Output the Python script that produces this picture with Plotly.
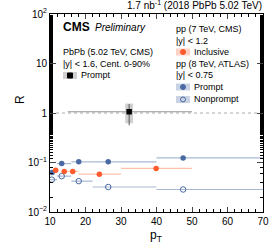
import plotly.graph_objects as go

# ---- data ----
pbpb_pt = [32.3]
pbpb_r = [1.06]
pbpb_lo = [15.0]
pbpb_hi = [50.0]
pbpb_stat = [0.45]
pbpb_sys_lo = [0.62]
pbpb_sys_hi = [1.55]

incl_pt = [11.6, 14.0, 16.4, 23.9, 39.9]
incl_r = [0.070, 0.066, 0.066, 0.058, 0.076]
incl_lo = [11.0, 13.5, 15.0, 18.0, 30.0]
incl_hi = [12.0, 15.0, 18.0, 30.0, 50.0]
incl_err = [0.004, 0.004, 0.004, 0.004, 0.006]

pr_pt = [10.6, 13.3, 18.1, 26.4, 47.5]
pr_r = [0.063, 0.095, 0.103, 0.103, 0.124]
pr_lo = [10.0, 12.0, 16.0, 22.0, 40.0]
pr_hi = [12.0, 16.0, 22.0, 40.0, 80.0]

np_pt = [10.5, 13.3, 18.1, 26.4, 47.5]
np_r = [0.045, 0.053, 0.042, 0.032, 0.0285]
np_lo = [10.0, 12.0, 16.0, 22.0, 40.0]
np_hi = [12.0, 16.0, 22.0, 40.0, 80.0]

ytick_vals = [0.01, 0.1, 1, 10, 100]
ytick_text = ["10<sup>−2</sup>", "10<sup>−1</sup>", "1", "10", "10<sup>2</sup>"]

BLUE = "#4a6aa3"
BLUE_L = "#a8b8d2"
ORANGE = "#ff5a2b"
ORANGE_L = "#ffc1aa"
FONT = "Liberation Sans, Arial, sans-serif"

def xerr(pt, lo, hi):
    return dict(type="data", symmetric=False,
                array=[h - p for p, h in zip(pt, hi)],
                arrayminus=[p - l for p, l in zip(pt, lo)],
                width=0, thickness=1.2)

fig = go.Figure()

# reference line at R = 1
fig.add_shape(type="line", xref="paper", yref="y", x0=0, x1=1, y0=1, y1=1,
              line=dict(color="#aaaaaa", width=1, dash="dot"), layer="below")

# systematic box for PbPb
for p, l, h in zip(pbpb_pt, pbpb_sys_lo, pbpb_sys_hi):
    fig.add_shape(type="rect", xref="x", yref="y", x0=p - 1.1, x1=p + 1.1,
                  y0=l, y1=h, fillcolor="#cfcfcf", line=dict(width=0), layer="below")

fig.add_trace(go.Scatter(
    x=pr_pt, y=pr_r, mode="markers",
    marker=dict(symbol="circle", size=5.5, color=BLUE),
    error_x=dict(xerr(pr_pt, pr_lo, pr_hi), color=BLUE_L),
    showlegend=False))
fig.add_trace(go.Scatter(
    x=np_pt, y=np_r, mode="markers",
    marker=dict(symbol="circle-open", size=5.5, color=BLUE, line=dict(width=1)),
    error_x=dict(xerr(np_pt, np_lo, np_hi), color=BLUE_L),
    showlegend=False))
fig.add_trace(go.Scatter(
    x=incl_pt, y=incl_r, mode="markers",
    marker=dict(symbol="circle", size=5.5, color=ORANGE),
    error_x=dict(xerr(incl_pt, incl_lo, incl_hi), color=ORANGE_L),
    error_y=dict(type="data", array=incl_err, width=0, thickness=1, color=ORANGE),
    showlegend=False))
fig.add_trace(go.Scatter(
    x=pbpb_pt, y=pbpb_r, mode="markers",
    marker=dict(symbol="square", size=5.5, color="black"),
    error_x=dict(xerr(pbpb_pt, pbpb_lo, pbpb_hi), color="#999999"),
    error_y=dict(type="data", array=list(pbpb_stat),
                 arrayminus=[s * 1.1 for s in pbpb_stat],
                 width=0, thickness=1, color="#555555"),
    showlegend=False))

# ---- legend (paper coords via overlay axis) ----
def px(x):
    return (x - 50) / 213.0

def py(y):
    return (212 - y) / 198.0

ann = []
def txt(x, y, s, size=9, **kw):
    ann.append(dict(x=px(x), y=py(y), xref="paper", yref="paper", text=s,
                    showarrow=False, xanchor="left", yanchor="middle",
                    borderpad=0, font=dict(family=FONT, size=size, color="black"), **kw))

txt(62, 27, "<b>CMS</b>", size=12)
txt(94, 27.5, "<i>Preliminary</i>", size=10)
txt(62, 52.5, "PbPb (5.02 TeV, CMS)")
txt(62, 64, "|y| < 1.6, Cent. 0-90%")
txt(80, 75.5, "Prompt")
txt(175, 29, "pp (7 TeV, CMS)")
txt(175, 40.5, "|y| < 1.2")
txt(193, 52, "Inclusive")
txt(175, 64, "pp (8 TeV, ATLAS)")
txt(175, 75.5, "|y| < 0.75")
txt(193, 87, "Prompt")
txt(193, 99.5, "Nonprompt")

legend_boxes = [(63, 75.5, "#d0d0d0"), (176, 52, "#fdd2c4"),
                (176, 87, "#c9d3e4"), (176, 99.5, "#c9d3e4")]
for bx, by, col in legend_boxes:
    fig.add_shape(type="rect", xref="paper", yref="paper",
                  x0=px(bx), x1=px(bx + 14), y0=py(by + 3.5), y1=py(by - 3.5),
                  fillcolor=col, line=dict(width=0), layer="below")

leg_x = [px(70), px(183), px(183), px(183)]
leg_y = [py(75.5), py(52), py(87), py(99.5)]
leg_sym = ["square", "circle", "circle", "circle-open"]
leg_col = ["black", ORANGE, BLUE, BLUE]
fig.add_trace(go.Scatter(x=leg_x, y=leg_y, mode="markers", xaxis="x2", yaxis="y2",
                         marker=dict(symbol=leg_sym, color=leg_col, size=5,
                                     line=dict(width=1, color=leg_col)),
                         showlegend=False, hoverinfo="skip"))

ann.append(dict(x=1.0, y=1.0, xref="paper", yref="paper", yshift=2,
                text="1.7 nb<sup>-1</sup> (2018 PbPb 5.02 TeV)", showarrow=False,
                xanchor="right", yanchor="bottom", borderpad=0,
                font=dict(family=FONT, size=10, color="black")))
# axis titles
ann.append(dict(x=px(156), y=py(236), xref="paper", yref="paper", text="p<sub>T</sub>",
                showarrow=False, xanchor="center", yanchor="middle",
                font=dict(family=FONT, size=12, color="black")))
ann.append(dict(x=px(20), y=py(100), xref="paper", yref="paper", text="R", textangle=-90,
                showarrow=False, xanchor="center", yanchor="middle",
                font=dict(family=FONT, size=12, color="black")))

fig.update_layout(
    width=275, height=252,
    margin=dict(l=50, r=12, t=14, b=40),
    paper_bgcolor="white", plot_bgcolor="white",
    font=dict(family=FONT, size=10, color="black"),
    annotations=ann,
    hovermode=False,
    xaxis=dict(range=[10, 70], dtick=10, tick0=10, ticks="inside", ticklen=5,
               minor=dict(dtick=2, ticks="inside", ticklen=3, tickcolor="black"),
               showline=True, linecolor="black", linewidth=1, mirror="ticks",
               showgrid=False, zeroline=False, tickfont=dict(size=10),
               automargin=False),
    yaxis=dict(type="log", range=[-2, 2], tickvals=ytick_vals, ticktext=ytick_text,
               ticks="inside", ticklen=6,
               minor=dict(ticks="inside", ticklen=3, tickcolor="black", showgrid=False),
               showline=True, linecolor="black", linewidth=1, mirror="ticks",
               showgrid=False, zeroline=False, tickfont=dict(size=10),
               automargin=False),
    xaxis2=dict(range=[0, 1], overlaying="x", visible=False, fixedrange=True),
    yaxis2=dict(range=[0, 1], overlaying="y", visible=False, fixedrange=True),
)

fig.write_html("out.html", config={"displayModeBar": False, "staticPlot": True},
               post_script="document.body.style.margin='0';")
